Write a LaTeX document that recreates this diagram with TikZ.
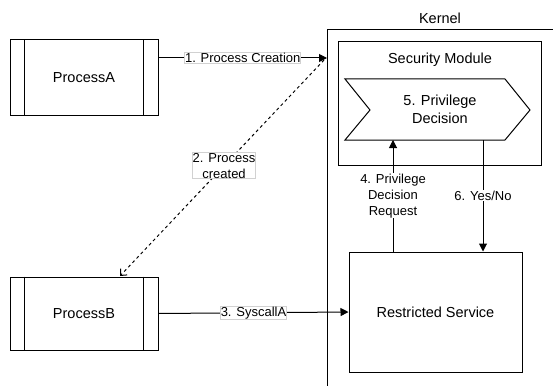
\documentclass[tikz,border=0pt]{standalone}
\usepackage{fontspec}
\setmainfont{Liberation Sans}
\usetikzlibrary{arrows.meta}
\begin{document}
\begin{tikzpicture}[x=1pt,y=-1pt,line width=1pt,
  proc/.style={draw,minimum width=148pt,minimum height=75pt,inner sep=0pt,font=\fontsize{14.5}{16}\selectfont},
  box/.style={draw,inner sep=0pt},
  lbl/.style={solid,fill=white,draw=black!18,line width=0.8pt,inner sep=0.4pt,font=\fontsize{13}{16}\selectfont,align=center},
  plain/.style={inner sep=0.5pt,font=\fontsize{13}{16}\selectfont,align=center},
  arr/.style={-{Triangle[length=8pt,width=8pt]}}]
\useasboundingbox (0,0) rectangle (553,385);
% processes
\node[proc] (pa) at (84,77.5) {ProcessA};
\draw ([xshift=15pt]pa.north west) -- ([xshift=15pt]pa.south west)
      ([xshift=-15pt]pa.north east) -- ([xshift=-15pt]pa.south east);
\node[proc,minimum height=73pt] (pb) at (84,313.5) {ProcessB};
\draw ([xshift=15pt]pb.north west) -- ([xshift=15pt]pb.south west)
      ([xshift=-15pt]pb.north east) -- ([xshift=-15pt]pb.south east);
% kernel boundary
\draw (327,390) -- (327,30) -- (560,30);
\node[font=\fontsize{14.5}{16}\selectfont] (kl) at (440,18) {Kernel};
\coordinate (kin) at (327,58);
\coordinate (kout) at (324,60);
% security module
\node[box,minimum width=203pt,minimum height=123pt] (sm) at (439.5,103.5) {};
\node[font=\fontsize{14.5}{16}\selectfont] (smt) at (440,60) {Security Module};
\draw (345,79) -- (505,79) -- (530,110) -- (505,140) -- (345,140) -- (370,110) -- cycle;
\node[font=\fontsize{14.5}{17.5}\selectfont,align=center] (pd) at (440,109.5) {5. Privilege\\Decision};
\coordinate (pdl) at (393,140);
\coordinate (pdr) at (483,140);
% restricted service
\node[box,minimum width=173pt,minimum height=120pt,font=\fontsize{14.5}{16}\selectfont] (rs) at (435.5,312) {Restricted Service};
% connectors
\draw[arr] (pa.east |- kin) -- node[lbl] {1. Process Creation} (kin);
\draw[dash pattern=on 3pt off 3pt,-{Straight Barb[length=5pt,width=9pt]}] (kout) -- node[lbl,pos=0.49] {2. Process\\created} (120,276);
\draw[arr] (pb.east) -- node[lbl] {3. SyscallA} (rs.west);
\draw[arr] (rs.north -| pdl) -- node[plain,fill=white,pos=0.5] {4. Privilege\\Decision\\Request} (pdl);
\draw[arr] (pdr) -- node[plain,fill=white,pos=0.5] {6. Yes/No} (pdr |- rs.north);
\end{tikzpicture}
\end{document}
